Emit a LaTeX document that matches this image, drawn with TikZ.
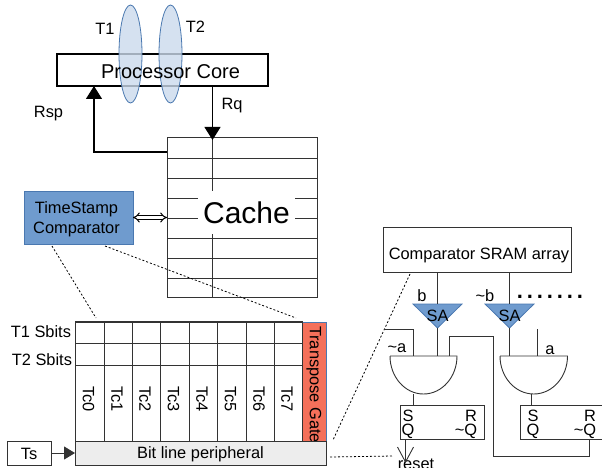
\documentclass[tikz,border=0pt]{standalone}
\usepackage{fontspec}
\setmainfont{Liberation Sans}
\usetikzlibrary{arrows.meta,shapes.geometric}
\tikzset{
  every node/.style={font=\fontsize{16.4}{18}\selectfont,inner sep=0pt,outer sep=0pt},
  box/.style={draw=black!80,line width=0.9pt},
  lens/.style={ellipse,draw=lensline,fill=lensfill,fill opacity=0.8,line width=0.8pt,minimum width=23,minimum height=98},
  wire/.style={draw=black!80,line width=0.9pt},
  thick wire/.style={draw=black,line width=1.1pt},
  big tip/.style={-{Triangle[length=13pt,width=16pt]}},
  dots/.style={dashed,dash pattern=on 2pt off 2pt,line width=0.8pt},
  ampl/.style={draw=lensline,fill=compfill,line width=0.8pt}
}
\definecolor{lensline}{HTML}{4A78B0}
\definecolor{lensfill}{HTML}{CBDAEC}
\definecolor{compfill}{HTML}{6F9BCE}
\definecolor{gatefill}{HTML}{F4705A}
\begin{document}
\begin{tikzpicture}[x=1pt,y=-1pt]
  \useasboundingbox (0,0) rectangle (602,468);
  \draw
    (162.5,70) node[draw=black,line width=1.2pt,minimum width=211,minimum height=32] (core){};
  \node[lens] (lens1) at (130.5,54) {};
  \node[lens] (lens2) at (170.5,54) {};
  \draw
    (170.5,72) node[font=\fontsize{20}{22}\selectfont] (coretext){Processor Core}
    (105,29) node (t1){T1}
    (195.5,27) node (t2){T2}
    (232,106) node (rq){Rq}
    (48.5,114) node (rsp){Rsp};
  \draw
    (242,217.5) node[box,minimum width=150,minimum height=160.5] (cache){}
    (78.5,217.5) node[ampl,minimum width=109,minimum height=53] (comp){}
    (76.5,219.5) node[align=center,font=\fontsize{16.4}{19.5}\selectfont] (comptext){TimeStamp\\Comparator};
  \begin{scope}[wire]
    \coordinate (rq top) at (212.5,86);
    \coordinate (rq end) at (212.5,140);
    \coordinate (rsp start) at (167,152);
    \coordinate (rsp bend) at (94,152);
    \coordinate (rsp end) at (94,86);
    \draw (167,158) to (317,158);
    \draw (167,178) to (317,178);
    \draw (167,198) to (317,198);
    \draw (167,218) to (317,218);
    \draw (167,238) to (317,238);
    \draw (167,258) to (317,258);
    \draw (167,278) to (317,278);
    \draw (212,137) to (212,298);
  \end{scope}
  \node[fill=white,minimum width=97,minimum height=43] (cachetext) at (246.5,212.5) {\fontsize{30}{32}\selectfont Cache};
  \draw[thick wire,big tip] (rq top) to (rq end);
  \draw[thick wire,big tip] (rsp start) to (rsp bend) to (rsp end);
  \draw[{Implies}-{Implies},double,double distance=2.4pt,line width=1pt] (comp.east) to (cache.west);
  \draw
    (188.5,343.5) node[box,minimum width=227,minimum height=43] (sbits){}
    (188.5,393) node[box,minimum width=227,minimum height=143] (cells){}
    (314,381.5) node[draw=lensline,fill=gatefill,minimum width=24,minimum height=119,line width=0.8pt] (gatebox){}
    (314,384.5) node[rotate=-90] (gatetext){Transpose  Gate}
    (200.5,453) node[box,fill=black!7,minimum width=251,minimum height=24] (bitlinebox){}
    (200.5,454) node (bitline){Bit line peripheral}
    (29,453) node[box,minimum width=44,minimum height=24] (ts){}
    (29,454) node (tstext){Ts}
    (71,332) node[anchor=east] (s1){T1 Sbits}
    (72,360) node[anchor=east] (s2){T2 Sbits}
    (88.5,399) node[rotate=-90] (tc0){Tc0}
    (117,399) node[rotate=-90] (tc1){Tc1}
    (145,399) node[rotate=-90] (tc2){Tc2}
    (173.5,399) node[rotate=-90] (tc3){Tc3}
    (202,399) node[rotate=-90] (tc4){Tc4}
    (230.5,399) node[rotate=-90] (tc5){Tc5}
    (259,399) node[rotate=-90] (tc6){Tc6}
    (287,399) node[rotate=-90] (tc7){Tc7};
  \begin{scope}[wire]
    \draw (75,343.5) to (302,343.5);
    \draw (75,365) to (302,365);
    \draw (104,322) to (104,441);
    \draw (132,322) to (132,441);
    \draw (160.5,322) to (160.5,441);
    \draw (189,322) to (189,441);
    \draw (217,322) to (217,441);
    \draw (246,322) to (246,441);
    \draw (274.5,322) to (274.5,441);
    \draw (302,322) to (302,441);
  \end{scope}
  \draw[wire,-{Triangle[length=11pt,width=13pt]}] (ts.east) to (bitlinebox.west);
  \coordinate (zoom a) at (52,246);
  \coordinate (zoom b) at (96,318);
  \coordinate (zoom c) at (105,246);
  \coordinate (zoom d) at (296,318);
  \coordinate (zoom e) at (410,274);
  \coordinate (zoom f) at (333,440);
  \coordinate (zoom g) at (330,457);
  \coordinate (zoom h) at (393,456);
  \draw[dots] (zoom a) to (zoom b);
  \draw[dots] (zoom c) to (zoom d);
  \draw[dots] (zoom e) to (zoom f);
  \draw[dots] (zoom g) to (zoom h);
  \draw
    (477.5,250) node[box,minimum width=187.5,minimum height=44.5] (sram){}
    (479,255) node (sramtext){Comparator SRAM array}
    (442,422) node[box,minimum width=84,minimum height=34] (ff1){}
    (561.5,422) node[box,minimum width=83,minimum height=34] (ff2){}
    (422,296) node (b){b}
    (485,296) node (nb){\textasciitilde b}
    (550,298) node[anchor=base,font=\fontsize{22}{24}\selectfont\bfseries] (more){.\kern3.9pt.\kern3.9pt.\kern3.9pt.\kern3.9pt.\kern3.9pt.\kern3.9pt.}
    (397,348) node (na){\textasciitilde a}
    (550,350) node (a){a}
    (408,416) node (s3){S}
    (408,431) node (q3){Q}
    (471,416) node (r3){R}
    (466,431) node (nq3){\textasciitilde Q}
    (533,416) node (s4){S}
    (533,431) node (q4){Q}
    (590,416) node (r4){R}
    (585,431) node (nq4){\textasciitilde Q}
    (416,464) node (reset){reset};
  \draw[ampl] (413,304) -- (462,304) -- (437.5,328) -- cycle;
  \draw[ampl] (485,304) -- (534,304) -- (509.5,328) -- cycle;
  \node (sa1) at (437.5,316) {SA};
  \node (sa2) at (509.5,316) {SA};
  \draw[box] (390,356) -- (457,356) arc[start angle=0,end angle=180,x radius=33.5,y radius=38];
  \draw[box] (500,356) -- (567.5,356) arc[start angle=0,end angle=180,x radius=33.75,y radius=38];
  \coordinate (sram b) at (437.5,272);
  \coordinate (sram nb) at (509.5,272);
  \coordinate (sa1 top) at (437.5,304);
  \coordinate (sa2 top) at (509.5,304);
  \coordinate (sa1 tip) at (437.5,328);
  \coordinate (sa2 tip) at (509.5,328);
  \coordinate (and1 mid) at (437.5,356);
  \coordinate (and2 mid) at (509.5,356);
  \coordinate (na start) at (384,329);
  \coordinate (na bend) at (413,329);
  \coordinate (and1 left) at (413,356);
  \coordinate (and1 right) at (449.5,356);
  \coordinate (loop a) at (449.5,336);
  \coordinate (loop b) at (493.5,336);
  \coordinate (loop c) at (493.5,456);
  \coordinate (loop d) at (589,456);
  \coordinate (loop e) at (589,439);
  \coordinate (a start) at (537,329);
  \coordinate (and2 right) at (537,356);
  \coordinate (and1 out) at (413,394);
  \coordinate (ff1 in) at (413,405);
  \coordinate (and2 out) at (531.5,394);
  \coordinate (ff2 in) at (531.5,405);
  \coordinate (reset top) at (405.5,439);
  \coordinate (reset end) at (405.5,463);
  \begin{scope}[wire]
    \draw (sram b) to (sa1 top);
    \draw (sram nb) to (sa2 top);
    \draw (sa1 tip) to (and1 mid);
    \draw (sa2 tip) to (and2 mid);
    \draw (na start) to (na bend) to (and1 left);
    \draw (and1 right) to (loop a) to (loop b) to (loop c) to (loop d) to (loop e);
    \draw (a start) to (and2 right);
    \draw (and1 out) to (ff1 in);
    \draw (and2 out) to (ff2 in);
    \draw[-{Straight Barb[length=15pt,width=16pt]}] (reset top) to (reset end);
  \end{scope}
\end{tikzpicture}
\end{document}
